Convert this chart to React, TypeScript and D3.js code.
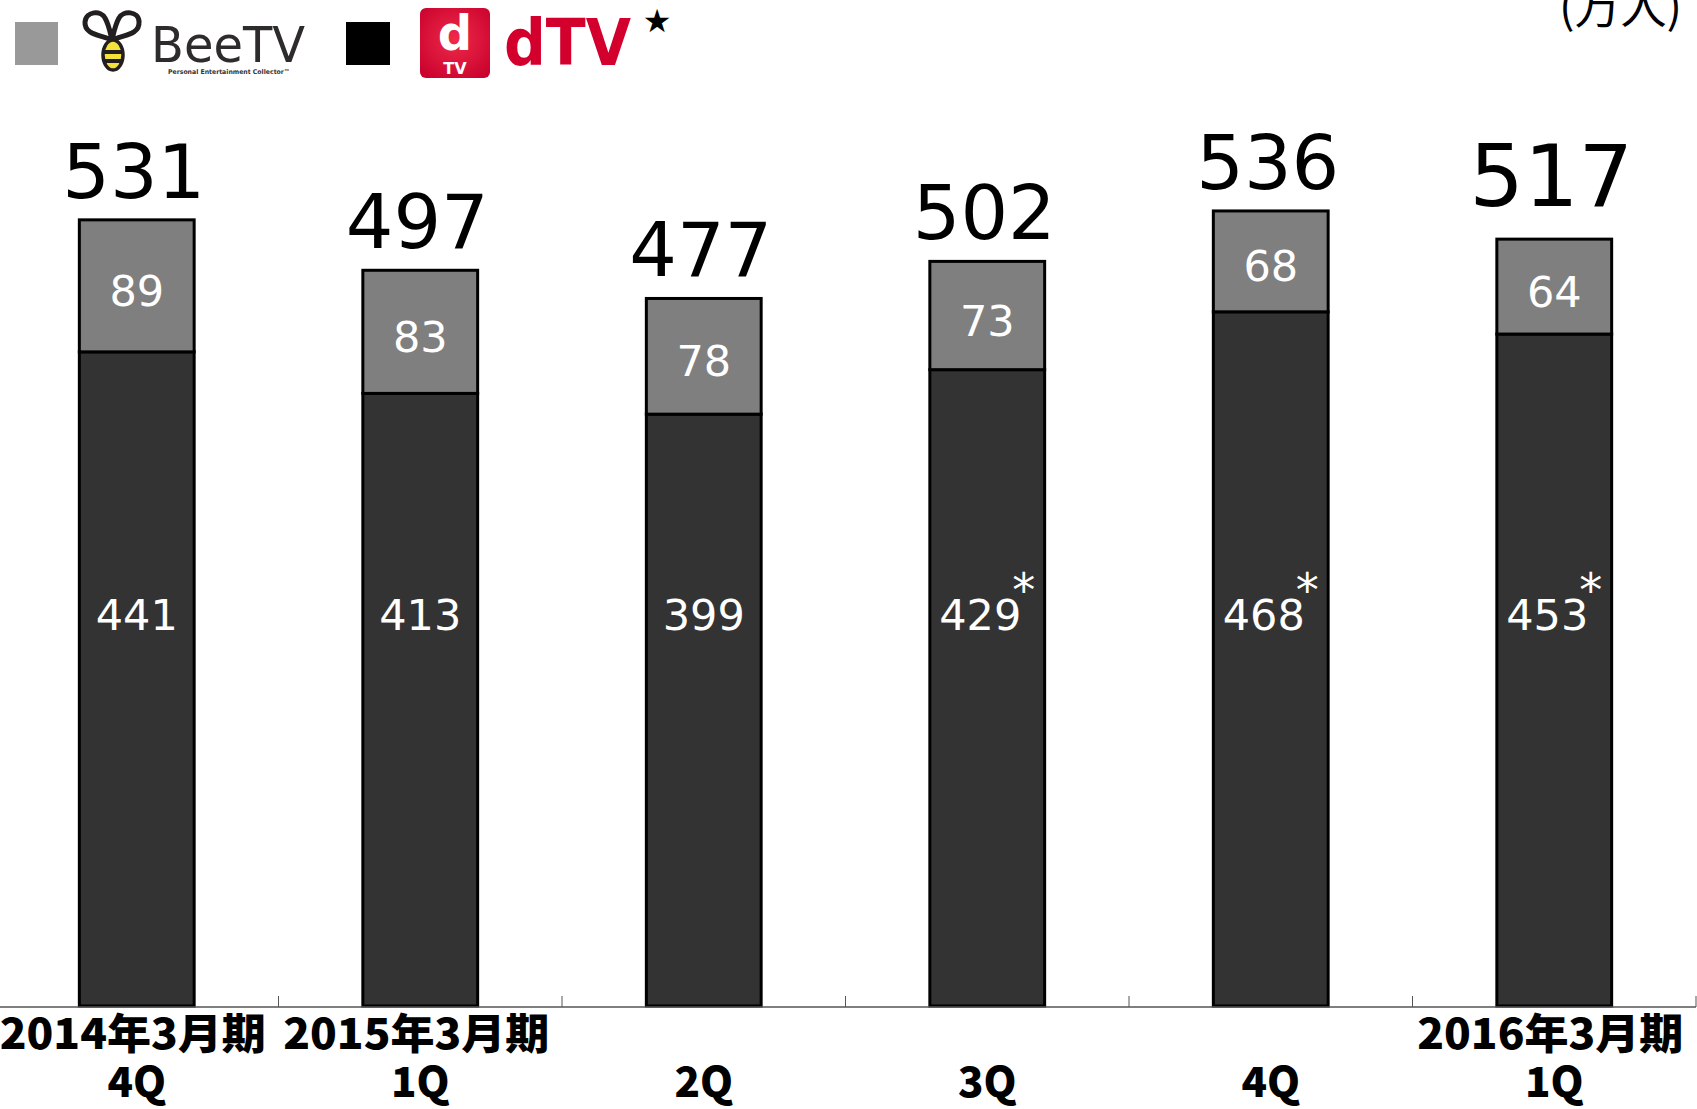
import React from "react";
import * as d3 from "d3";

const periodLabels = ["2014年3月期", "2015年3月期", "", "", "", "2016年3月期"];
const quarterLabels = ["4Q", "1Q", "2Q", "3Q", "4Q", "1Q"];
const dtvValues = [441, 413, 399, 429, 468, 453];
const beetvValues = [89, 83, 78, 73, 68, 64];
const totalValues = [531, 497, 477, 502, 536, 517];
const asteriskFlags = [false, false, false, true, true, true];

const W = 1697;
const H = 1109;
const BASE = 1006;

export default function App() {
  const ids = quarterLabels.map((_, i) => String(i));
  const x = d3.scaleBand<string>().domain(ids).range([-5, 1696]).padding(0);
  const y = d3.scaleLinear().domain([0, 600]).range([BASE, BASE - 600 * 1.4833]);
  const barW = x.bandwidth() * 0.405;

  const rows = ids.map((id, i) => ({ id, dtv: dtvValues[i], beetv: beetvValues[i] }));
  const stack = d3.stack<any>().keys(["dtv", "beetv"]);
  const series = stack(rows);
  const fills: Record<string, string> = { dtv: "#333333", beetv: "#7f7f7f" };

  const cx = (i: number) => (x(ids[i]) as number) + x.bandwidth() / 2;
  const boundaries = ids.map((id) => (x(id) as number) + x.bandwidth());

  return (
    <svg
      width={W}
      height={H}
      style={{ position: "absolute", left: 0, top: 0, display: "block", background: "#fff" }}
    >
      <defs>
        <radialGradient id="dtvGrad" cx="50%" cy="45%" r="70%">
          <stop offset="0%" stopColor="#ef2a4a" />
          <stop offset="100%" stopColor="#c8002c" />
        </radialGradient>
        <clipPath id="beeBody">
          <ellipse cx={113} cy={55} rx={10} ry={15} />
        </clipPath>
      </defs>

      {/* Legend: BeeTV */}
      <rect x={15} y={22} width={43} height={43} fill="#999999" />
      <g>
        <path
          d="M112,40 C102,35 84,35 85,22 C86,11 101,10 105,18 C109,25 110,32 112,40 C114,32 115,25 119,18 C123,10 139,11 139,22 C140,35 122,35 112,40 Z"
          fill="none"
          stroke="#231f20"
          strokeWidth={5}
          strokeLinejoin="round"
        />
        <g clipPath="url(#beeBody)">
          <rect x={100} y={38} width={26} height={36} fill="#f4e23c" />
          <rect x={100} y={50} width={26} height={4} fill="#231f20" />
          <rect x={100} y={59} width={26} height={4} fill="#231f20" />
        </g>
        <ellipse cx={113} cy={55} rx={10} ry={15} fill="none" stroke="#231f20" strokeWidth={3.5} />
      </g>
      <text
        x={151}
        y={62}
        fontFamily="'DejaVu Sans', sans-serif"
        fontSize={50}
        fill="#2e2b2c"
        textLength={154}
        lengthAdjust="spacingAndGlyphs"
      >
        BeeTV
      </text>
      <text
        x={168}
        y={74}
        fontFamily="'DejaVu Sans', sans-serif"
        fontSize={6.5}
        fontWeight="bold"
        fill="#333"
        textLength={122}
        lengthAdjust="spacingAndGlyphs"
      >
        Personal Entertainment Collector™
      </text>

      {/* Legend: dTV */}
      <rect x={346} y={22} width={44} height={43} fill="#000" />
      <rect x={420} y={8} width={70} height={70} rx={6} fill="url(#dtvGrad)" />
      <text
        x={455}
        y={50}
        textAnchor="middle"
        fontFamily="'DejaVu Sans', sans-serif"
        fontWeight="bold"
        fontSize={48}
        fill="#fff"
      >
        d
      </text>
      <text
        x={455}
        y={74}
        textAnchor="middle"
        fontFamily="'DejaVu Sans', sans-serif"
        fontWeight="bold"
        fontSize={16}
        fill="#fff"
      >
        TV
      </text>
      <text
        x={504}
        y={65}
        fontFamily="'DejaVu Sans', sans-serif"
        fontWeight="bold"
        fontSize={64}
        fill="#d3002e"
        textLength={127}
        lengthAdjust="spacingAndGlyphs"
      >
        dTV
      </text>
      <text x={657} y={32} textAnchor="middle" fontFamily="'DejaVu Sans', sans-serif" fontSize={32} fill="#000">
        ★
      </text>

      {/* Unit */}
      <text x={1559} y={23} fontFamily="'Noto Sans CJK JP', sans-serif" fontSize={46} fill="#000">
        (万人)
      </text>

      {/* Bars */}
      {series.map((s) =>
        s.map((d: any, i: number) => (
          <rect
            key={s.key + i}
            x={cx(i) - barW / 2}
            y={y(d[1])}
            width={barW}
            height={y(d[0]) - y(d[1])}
            fill={fills[s.key]}
            stroke="#000"
            strokeWidth={3}
          />
        ))
      )}

      {/* Axis */}
      <line x1={0} x2={1696} y1={BASE + 1} y2={BASE + 1} stroke="#555" strokeWidth={1.5} />
      {boundaries.map((bx, i) => (
        <line key={"t" + i} x1={bx} x2={bx} y1={BASE + 1} y2={BASE - 10} stroke="#555" strokeWidth={1} />
      ))}

      {/* Top segment labels */}
      {beetvValues.map((v, i) => (
        <text
          key={"bl" + i}
          x={cx(i)}
          y={(y(dtvValues[i]) + y(dtvValues[i] + v)) / 2 + 20}
          textAnchor="middle"
          fontFamily="'DejaVu Sans', sans-serif"
          fontSize={43}
          fill="#fff"
        >
          {v}
        </text>
      ))}

      {/* Bottom segment labels */}
      {dtvValues.map((v, i) => (
        <text
          key={"dl" + i}
          x={cx(i)}
          y={630}
          textAnchor="middle"
          fontFamily="'DejaVu Sans', sans-serif"
          fontSize={43}
          fill="#fff"
        >
          <tspan>{v}</tspan>
          {asteriskFlags[i] ? (
            <tspan dx={-9} dy={-24} fontSize={46}>
              *
            </tspan>
          ) : null}
        </text>
      ))}

      {/* Totals */}
      {totalValues.map((v, i) => {
        const big = i === totalValues.length - 1;
        return (
          <text
            key={"tot" + i}
            x={cx(i) - 3}
            y={y(dtvValues[i] + beetvValues[i]) - (big ? 33 : 22)}
            textAnchor="middle"
            fontFamily="'DejaVu Sans', sans-serif"
            fontSize={big ? 86 : 75}
            fill="#000"
          >
            {v}
          </text>
        );
      })}

      {/* Category labels */}
      {periodLabels.map((p, i) =>
        p ? (
          <text
            key={"p" + i}
            x={cx(i) - 4}
            y={1049}
            textAnchor="middle"
            fontFamily="'Noto Sans CJK JP', sans-serif"
            fontWeight={900}
            fontSize={42}
            fill="#000"
            textLength={266}
            lengthAdjust="spacingAndGlyphs"
          >
            {p}
          </text>
        ) : null
      )}
      {quarterLabels.map((q, i) => (
        <text
          key={"q" + i}
          x={cx(i)}
          y={1097}
          textAnchor="middle"
          fontFamily="'Noto Sans CJK JP', sans-serif"
          fontWeight={900}
          fontSize={42}
          fill="#000"
        >
          {q}
        </text>
      ))}
    </svg>
  );
}
